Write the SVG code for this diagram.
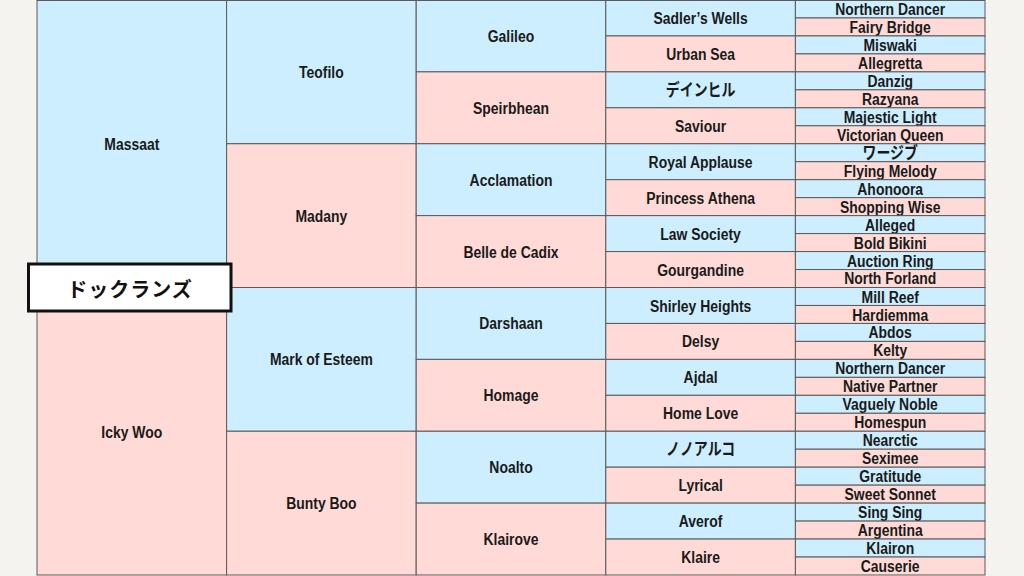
<svg xmlns="http://www.w3.org/2000/svg" width="1024" height="576" viewBox="0 0 1024 576">
<style>
.b{fill:#CCEEFE;stroke:#5a5a5a;stroke-width:1}
.p{fill:#FFDAD6;stroke:#5a5a5a;stroke-width:1}
.t{font-family:"Liberation Sans","Noto Sans CJK JP",sans-serif;font-weight:bold;font-size:17px;text-anchor:middle;dominant-baseline:central;fill:#1a1a1a}
.n{font-family:"Noto Sans CJK JP","Liberation Sans",sans-serif;font-weight:bold;font-size:20px;text-anchor:middle;dominant-baseline:central;fill:#111;letter-spacing:1px}
</style>
<rect x="0" y="0" width="1024" height="576" fill="#F5F3F0"/>
<g id="gen1">
<g id="n-massaat"><rect class="b" x="37" y="0.5" width="189.6" height="287"/><text class="t" transform="translate(131.8 0) scale(0.82 1)" x="0" y="144">Massaat</text></g>
<g id="n-ickywoo"><rect class="p" x="37" y="287.5" width="189.6" height="287.5"/><text class="t" transform="translate(131.8 0) scale(0.82 1)" x="0" y="432">Icky Woo</text></g>
</g>
<g id="gen2">
<g id="n-teofilo"><rect class="b" x="226.6" y="0.5" width="189.6" height="143.25"/><text class="t" transform="translate(321.4 0) scale(0.82 1)" x="0" y="72">Teofilo</text></g>
<g id="n-madany"><rect class="p" x="226.6" y="143.75" width="189.6" height="143.75"/><text class="t" transform="translate(321.4 0) scale(0.82 1)" x="0" y="215.6">Madany</text></g>
<g id="n-markofesteem"><rect class="b" x="226.6" y="287.5" width="189.6" height="143.75"/><text class="t" transform="translate(321.4 0) scale(0.82 1)" x="0" y="359.4">Mark of Esteem</text></g>
<g id="n-buntyboo"><rect class="p" x="226.6" y="431.25" width="189.6" height="143.75"/><text class="t" transform="translate(321.4 0) scale(0.82 1)" x="0" y="503.1">Bunty Boo</text></g>
</g>
<g id="gen3">
<g id="n-galileo"><rect class="b" x="416.2" y="0.5" width="189.6" height="71.375"/><text class="t" transform="translate(511 0) scale(0.82 1)" x="0" y="36">Galileo</text></g>
<g id="n-speirbhean"><rect class="p" x="416.2" y="71.875" width="189.6" height="71.875"/><text class="t" transform="translate(511 0) scale(0.82 1)" x="0" y="107.8">Speirbhean</text></g>
<g id="n-acclamation"><rect class="b" x="416.2" y="143.75" width="189.6" height="71.875"/><text class="t" transform="translate(511 0) scale(0.82 1)" x="0" y="179.7">Acclamation</text></g>
<g id="n-belledecadix"><rect class="p" x="416.2" y="215.625" width="189.6" height="71.875"/><text class="t" transform="translate(511 0) scale(0.82 1)" x="0" y="251.6">Belle de Cadix</text></g>
<g id="n-darshaan"><rect class="b" x="416.2" y="287.5" width="189.6" height="71.875"/><text class="t" transform="translate(511 0) scale(0.82 1)" x="0" y="323.4">Darshaan</text></g>
<g id="n-homage"><rect class="p" x="416.2" y="359.375" width="189.6" height="71.875"/><text class="t" transform="translate(511 0) scale(0.82 1)" x="0" y="395.3">Homage</text></g>
<g id="n-noalto"><rect class="b" x="416.2" y="431.25" width="189.6" height="71.875"/><text class="t" transform="translate(511 0) scale(0.82 1)" x="0" y="467.2">Noalto</text></g>
<g id="n-klairove"><rect class="p" x="416.2" y="503.125" width="189.6" height="71.875"/><text class="t" transform="translate(511 0) scale(0.82 1)" x="0" y="539.1">Klairove</text></g>
</g>
<g id="gen4">
<g id="n-sadlerswells"><rect class="b" x="605.8" y="0.5" width="189.6" height="35.44"/><text class="t" transform="translate(700.6 0) scale(0.82 1)" x="0" y="18">Sadler’s Wells</text></g>
<g id="n-urbansea"><rect class="p" x="605.8" y="35.94" width="189.6" height="35.94"/><text class="t" transform="translate(700.6 0) scale(0.82 1)" x="0" y="53.9">Urban Sea</text></g>
<g id="n-danehill"><rect class="b" x="605.8" y="71.88" width="189.6" height="35.94"/><text class="t" transform="translate(700.6 0) scale(0.82 1)" x="0" y="89.8">デインヒル</text></g>
<g id="n-saviour"><rect class="p" x="605.8" y="107.81" width="189.6" height="35.94"/><text class="t" transform="translate(700.6 0) scale(0.82 1)" x="0" y="125.8">Saviour</text></g>
<g id="n-royalapplause"><rect class="b" x="605.8" y="143.75" width="189.6" height="35.94"/><text class="t" transform="translate(700.6 0) scale(0.82 1)" x="0" y="161.7">Royal Applause</text></g>
<g id="n-princessathena"><rect class="p" x="605.8" y="179.69" width="189.6" height="35.94"/><text class="t" transform="translate(700.6 0) scale(0.82 1)" x="0" y="197.7">Princess Athena</text></g>
<g id="n-lawsociety"><rect class="b" x="605.8" y="215.63" width="189.6" height="35.94"/><text class="t" transform="translate(700.6 0) scale(0.82 1)" x="0" y="233.6">Law Society</text></g>
<g id="n-gourgandine"><rect class="p" x="605.8" y="251.56" width="189.6" height="35.94"/><text class="t" transform="translate(700.6 0) scale(0.82 1)" x="0" y="269.5">Gourgandine</text></g>
<g id="n-shirleyheights"><rect class="b" x="605.8" y="287.5" width="189.6" height="35.94"/><text class="t" transform="translate(700.6 0) scale(0.82 1)" x="0" y="305.5">Shirley Heights</text></g>
<g id="n-delsy"><rect class="p" x="605.8" y="323.44" width="189.6" height="35.94"/><text class="t" transform="translate(700.6 0) scale(0.82 1)" x="0" y="341.4">Delsy</text></g>
<g id="n-ajdal"><rect class="b" x="605.8" y="359.38" width="189.6" height="35.94"/><text class="t" transform="translate(700.6 0) scale(0.82 1)" x="0" y="377.3">Ajdal</text></g>
<g id="n-homelove"><rect class="p" x="605.8" y="395.31" width="189.6" height="35.94"/><text class="t" transform="translate(700.6 0) scale(0.82 1)" x="0" y="413.3">Home Love</text></g>
<g id="n-nonoalco"><rect class="b" x="605.8" y="431.25" width="189.6" height="35.94"/><text class="t" transform="translate(700.6 0) scale(0.82 1)" x="0" y="449.2">ノノアルコ</text></g>
<g id="n-lyrical"><rect class="p" x="605.8" y="467.19" width="189.6" height="35.94"/><text class="t" transform="translate(700.6 0) scale(0.82 1)" x="0" y="485.2">Lyrical</text></g>
<g id="n-averof"><rect class="b" x="605.8" y="503.13" width="189.6" height="35.94"/><text class="t" transform="translate(700.6 0) scale(0.82 1)" x="0" y="521.1">Averof</text></g>
<g id="n-klaire"><rect class="p" x="605.8" y="539.06" width="189.6" height="35.94"/><text class="t" transform="translate(700.6 0) scale(0.82 1)" x="0" y="557">Klaire</text></g>
</g>
<g id="gen5">
<g id="n5-01"><rect class="b" x="795.4" y="0.5" width="189.6" height="17.47"/><text class="t" transform="translate(890.2 0) scale(0.82 1)" x="0" y="9.2">Northern Dancer</text></g>
<g id="n5-02"><rect class="p" x="795.4" y="17.97" width="189.6" height="17.97"/><text class="t" transform="translate(890.2 0) scale(0.82 1)" x="0" y="27">Fairy Bridge</text></g>
<g id="n5-03"><rect class="b" x="795.4" y="35.94" width="189.6" height="17.97"/><text class="t" transform="translate(890.2 0) scale(0.82 1)" x="0" y="44.9">Miswaki</text></g>
<g id="n5-04"><rect class="p" x="795.4" y="53.91" width="189.6" height="17.97"/><text class="t" transform="translate(890.2 0) scale(0.82 1)" x="0" y="62.9">Allegretta</text></g>
<g id="n5-05"><rect class="b" x="795.4" y="71.88" width="189.6" height="17.97"/><text class="t" transform="translate(890.2 0) scale(0.82 1)" x="0" y="80.9">Danzig</text></g>
<g id="n5-06"><rect class="p" x="795.4" y="89.84" width="189.6" height="17.97"/><text class="t" transform="translate(890.2 0) scale(0.82 1)" x="0" y="98.8">Razyana</text></g>
<g id="n5-07"><rect class="b" x="795.4" y="107.81" width="189.6" height="17.97"/><text class="t" transform="translate(890.2 0) scale(0.82 1)" x="0" y="116.8">Majestic Light</text></g>
<g id="n5-08"><rect class="p" x="795.4" y="125.78" width="189.6" height="17.97"/><text class="t" transform="translate(890.2 0) scale(0.82 1)" x="0" y="134.8">Victorian Queen</text></g>
<g id="n5-09"><rect class="b" x="795.4" y="143.75" width="189.6" height="17.97"/><text class="t" transform="translate(890.2 0) scale(0.82 1)" x="0" y="152.7">ワージブ</text></g>
<g id="n5-10"><rect class="p" x="795.4" y="161.72" width="189.6" height="17.97"/><text class="t" transform="translate(890.2 0) scale(0.82 1)" x="0" y="170.7">Flying Melody</text></g>
<g id="n5-11"><rect class="b" x="795.4" y="179.69" width="189.6" height="17.97"/><text class="t" transform="translate(890.2 0) scale(0.82 1)" x="0" y="188.7">Ahonoora</text></g>
<g id="n5-12"><rect class="p" x="795.4" y="197.66" width="189.6" height="17.97"/><text class="t" transform="translate(890.2 0) scale(0.82 1)" x="0" y="206.6">Shopping Wise</text></g>
<g id="n5-13"><rect class="b" x="795.4" y="215.63" width="189.6" height="17.97"/><text class="t" transform="translate(890.2 0) scale(0.82 1)" x="0" y="224.6">Alleged</text></g>
<g id="n5-14"><rect class="p" x="795.4" y="233.59" width="189.6" height="17.97"/><text class="t" transform="translate(890.2 0) scale(0.82 1)" x="0" y="242.6">Bold Bikini</text></g>
<g id="n5-15"><rect class="b" x="795.4" y="251.56" width="189.6" height="17.97"/><text class="t" transform="translate(890.2 0) scale(0.82 1)" x="0" y="260.6">Auction Ring</text></g>
<g id="n5-16"><rect class="p" x="795.4" y="269.53" width="189.6" height="17.97"/><text class="t" transform="translate(890.2 0) scale(0.82 1)" x="0" y="278.5">North Forland</text></g>
<g id="n5-17"><rect class="b" x="795.4" y="287.5" width="189.6" height="17.97"/><text class="t" transform="translate(890.2 0) scale(0.82 1)" x="0" y="296.5">Mill Reef</text></g>
<g id="n5-18"><rect class="p" x="795.4" y="305.47" width="189.6" height="17.97"/><text class="t" transform="translate(890.2 0) scale(0.82 1)" x="0" y="314.5">Hardiemma</text></g>
<g id="n5-19"><rect class="b" x="795.4" y="323.44" width="189.6" height="17.97"/><text class="t" transform="translate(890.2 0) scale(0.82 1)" x="0" y="332.4">Abdos</text></g>
<g id="n5-20"><rect class="p" x="795.4" y="341.41" width="189.6" height="17.97"/><text class="t" transform="translate(890.2 0) scale(0.82 1)" x="0" y="350.4">Kelty</text></g>
<g id="n5-21"><rect class="b" x="795.4" y="359.38" width="189.6" height="17.97"/><text class="t" transform="translate(890.2 0) scale(0.82 1)" x="0" y="368.4">Northern Dancer</text></g>
<g id="n5-22"><rect class="p" x="795.4" y="377.34" width="189.6" height="17.97"/><text class="t" transform="translate(890.2 0) scale(0.82 1)" x="0" y="386.3">Native Partner</text></g>
<g id="n5-23"><rect class="b" x="795.4" y="395.31" width="189.6" height="17.97"/><text class="t" transform="translate(890.2 0) scale(0.82 1)" x="0" y="404.3">Vaguely Noble</text></g>
<g id="n5-24"><rect class="p" x="795.4" y="413.28" width="189.6" height="17.97"/><text class="t" transform="translate(890.2 0) scale(0.82 1)" x="0" y="422.3">Homespun</text></g>
<g id="n5-25"><rect class="b" x="795.4" y="431.25" width="189.6" height="17.97"/><text class="t" transform="translate(890.2 0) scale(0.82 1)" x="0" y="440.2">Nearctic</text></g>
<g id="n5-26"><rect class="p" x="795.4" y="449.22" width="189.6" height="17.97"/><text class="t" transform="translate(890.2 0) scale(0.82 1)" x="0" y="458.2">Seximee</text></g>
<g id="n5-27"><rect class="b" x="795.4" y="467.19" width="189.6" height="17.97"/><text class="t" transform="translate(890.2 0) scale(0.82 1)" x="0" y="476.2">Gratitude</text></g>
<g id="n5-28"><rect class="p" x="795.4" y="485.16" width="189.6" height="17.97"/><text class="t" transform="translate(890.2 0) scale(0.82 1)" x="0" y="494.1">Sweet Sonnet</text></g>
<g id="n5-29"><rect class="b" x="795.4" y="503.13" width="189.6" height="17.97"/><text class="t" transform="translate(890.2 0) scale(0.82 1)" x="0" y="512.1">Sing Sing</text></g>
<g id="n5-30"><rect class="p" x="795.4" y="521.09" width="189.6" height="17.97"/><text class="t" transform="translate(890.2 0) scale(0.82 1)" x="0" y="530.1">Argentina</text></g>
<g id="n5-31"><rect class="b" x="795.4" y="539.06" width="189.6" height="17.97"/><text class="t" transform="translate(890.2 0) scale(0.82 1)" x="0" y="548">Klairon</text></g>
<g id="n5-32"><rect class="p" x="795.4" y="557.03" width="189.6" height="17.97"/><text class="t" transform="translate(890.2 0) scale(0.82 1)" x="0" y="566">Causerie</text></g>
</g>
<g id="subject">
<rect x="28.5" y="264" width="202.5" height="47" fill="#FFFFFF" stroke="#111" stroke-width="3"/>
<text class="n" x="130" y="288">ドックランズ</text>
</g>
</svg>
